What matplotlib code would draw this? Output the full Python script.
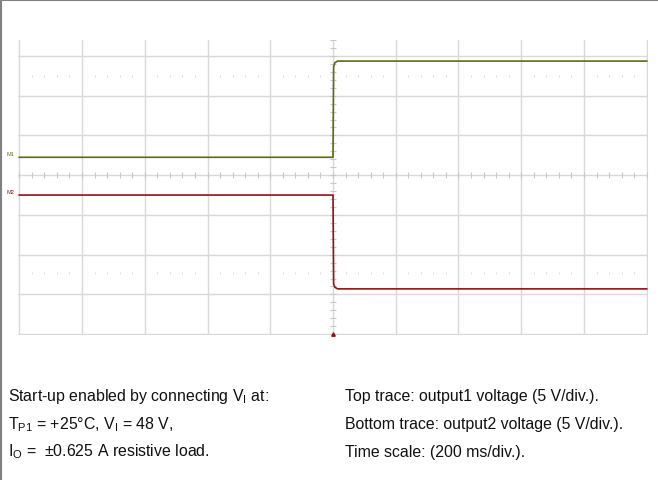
import numpy as np
import matplotlib
matplotlib.use("Agg")
import matplotlib.pyplot as plt
from matplotlib.lines import Line2D

plt.rcParams['font.family'] = ['Liberation Sans', 'DejaVu Sans']
plt.rcParams['mathtext.fontset'] = 'custom'
plt.rcParams['mathtext.rm'] = 'Liberation Sans'

# scope settings
volts_per_div = 5.0
ms_per_div = 200.0

# breakpoints (time in ms, voltage in V)
t1 = [-1000, 0, 2, 6, 15, 1000]
v1 = [0.0, 0.0, 11.4, 11.9, 12.1, 12.1]
t2 = [-1000, 0, 2, 6, 15, 1000]
v2 = [0.0, 0.0, -11.2, -11.6, -11.8, -11.8]

# channel offsets on screen (div)
off1 = 0.45
off2 = -0.5

left_notes = [r'Start-up enabled by connecting $\mathregular{V_I}$ at:',
              r'$\mathregular{T_{P1}}$ = +25°C, $\mathregular{V_I}$ = 48 V,',
              r'$\mathregular{I_O}$ =  ±0.625 A resistive load.']
right_notes = ['Top trace: output1 voltage (5 V/div.).',
               'Bottom trace: output2 voltage (5 V/div.).',
               'Time scale: (200 ms/div.).']

c1 = '#5e6a14'
c2 = '#8c1616'
grid_c = '#d9d9d9'

fig = plt.figure(figsize=(6.58, 4.81), dpi=100)
ax = fig.add_axes([18 / 658, 145 / 481, 630 / 658, 295 / 481])
ax.set_xlim(-5.02, 5.02)
ax.set_ylim(-4.02, 3.4)
ax.axis('off')

# grid
for gx in range(-5, 6):
    ax.axvline(gx, color=grid_c, lw=1.0, zorder=1)
for gy in range(-4, 4):
    ax.axhline(gy, color=grid_c, lw=1.0, zorder=1)

# minor ticks on centre lines and dotted rows
minor = np.arange(-5, 5.01, 0.2)
ax.plot(minor, np.zeros_like(minor), ls='none', marker='|', ms=4, mew=0.8, color='#c8c8c8', zorder=2)
minor_y = np.arange(-4, 3.41, 0.2)
ax.plot(np.zeros_like(minor_y), minor_y, ls='none', marker='_', ms=4, mew=0.8, color='#c8c8c8', zorder=2)
for ry in (2.5, -2.45):
    ax.plot(minor, np.full_like(minor, ry), ls='none', marker='|', ms=2, mew=0.7, color='#dcdcdc', zorder=2)

# traces
ax.plot(np.array(t1) / ms_per_div, np.array(v1) / volts_per_div + off1, color=c1, lw=1.2, zorder=3)
ax.plot(np.array(t2) / ms_per_div, np.array(v2) / volts_per_div + off2, color=c2, lw=1.2, zorder=3)

# channel markers
ax.text(-5.08, off1 + 0.02, 'M1', color=c1, fontsize=4, ha='right', va='bottom')
ax.text(-5.08, off2 + 0.02, 'M2', color=c2, fontsize=4, ha='right', va='bottom')
ax.plot([0], [-4.0], marker='^', ms=2.5, color=c2, zorder=4, clip_on=False)

# border (top and left only)
fig.add_artist(Line2D([0, 1], [1 - 0.5 / 481, 1 - 0.5 / 481], color='#808080', lw=1.5))
fig.add_artist(Line2D([0.5 / 658, 0.5 / 658], [0, 1], color='#808080', lw=1.5))

# notes
ys = [397, 425, 452]
for txt, y in zip(left_notes, ys):
    fig.text(8 / 658, 1 - y / 481, txt, fontsize=11.4, va='center', ha='left', color='#111111')
for txt, y in zip(right_notes, ys):
    fig.text(345 / 658, 1 - y / 481, txt, fontsize=11.4, va='center', ha='left', color='#111111')

fig.savefig('out.png', dpi=100)
